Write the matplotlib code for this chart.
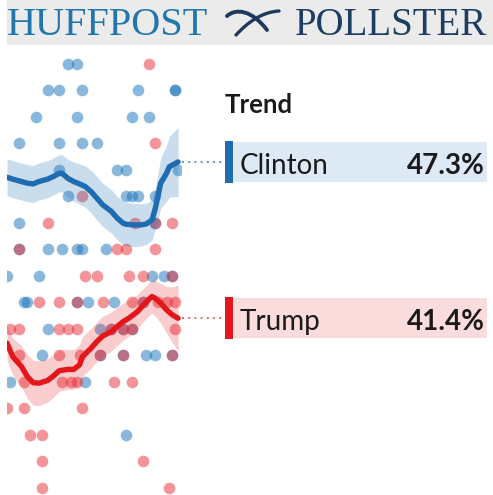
import matplotlib
matplotlib.use("Agg")
import matplotlib.pyplot as plt
from matplotlib.patches import Rectangle, PathPatch
from matplotlib.path import Path

# ---------------------------------------------------------------
# Individual poll results: day index in the window, share in percent
# ---------------------------------------------------------------
clinton_poll_days = [21, 24,
                     14, 18, 26, 45, 58, 58,
                     10, 24, 43, 49,
                     4, 18, 26, 31,
                     18, 38, 41, 59,
                     21, 41, 43, 45, 51,
                     4, 51,
                     4, 14, 19, 24, 26, 34,
                     0, 11, 50, 54, 57,
                     6, 7, 24, 28, 37, 47,
                     14, 32, 36, 40, 43,
                     12, 32, 40, 48, 51, 57,
                     1, 27,
                     41]
clinton_poll_vals = [51, 51,
                     50, 50, 50, 50, 50, 50,
                     49, 49, 49, 49,
                     48, 48, 48, 48,
                     47, 47, 47, 47,
                     46, 46, 46, 46, 46,
                     45, 45,
                     44, 44, 44, 44, 44, 44,
                     43, 43, 43, 43, 43,
                     42, 42, 42, 42, 42, 42,
                     41, 41, 41, 41, 41,
                     40, 40, 40, 40, 40, 40,
                     39, 39,
                     37]

trump_poll_days = [49,
                   51,
                   26,
                   14, 44, 51, 57,
                   4, 38, 41, 51,
                   27, 31, 42, 47, 57,
                   11, 18, 24, 33, 43, 47, 52, 55, 58,
                   1, 4, 18, 21, 24, 36, 40, 43, 58,
                   4, 18, 25, 32, 40, 57,
                   6, 19, 22, 24, 37, 43,
                   0, 6, 26,
                   8, 12,
                   12, 47,
                   12, 56]
trump_poll_vals = [51,
                   48,
                   46,
                   45, 45, 45, 45,
                   44, 44, 44, 44,
                   43, 43, 43, 43, 43,
                   42, 42, 42, 42, 42, 42, 42, 42, 42,
                   41, 41, 41, 41, 41, 41, 41, 41, 41,
                   40, 40, 40, 40, 40, 40,
                   39, 39, 39, 39, 39, 39,
                   38, 38, 38,
                   37, 37,
                   36, 36,
                   35, 35]

# ---------------------------------------------------------------
# Smoothed trend estimates with their uncertainty (half width, points)
# ---------------------------------------------------------------
clinton_trend_days = [0, 2, 5, 7, 9, 11, 14, 16, 18, 19, 21, 23, 25, 27, 29, 31,
                      33, 36, 38, 40, 41, 44, 46, 48, 50, 51, 52, 53, 55, 56, 59]
clinton_trend_vals = [46.72, 46.65, 46.56, 46.50, 46.47, 46.56, 46.65, 46.75,
                      46.87, 46.87, 46.68, 46.56, 46.47, 46.37, 46.18, 45.93,
                      45.68, 45.43, 45.18, 44.99, 44.95, 44.92, 44.92, 44.96,
                      45.11, 45.49, 45.99, 46.50, 46.87, 47.12, 47.3]
clinton_trend_err = [0.70, 0.70, 0.70, 0.70, 0.70, 0.70, 0.70, 0.70, 0.70,
                     0.70, 0.72, 0.74, 0.76, 0.78, 0.80, 0.82, 0.82, 0.82,
                     0.82, 0.82, 0.82, 0.82, 0.80, 0.78, 0.76, 0.78, 0.85,
                     0.95, 1.05, 1.15, 1.30]

trump_trend_days = [0, 2, 5, 7, 9, 11, 14, 16, 18, 21, 23, 25, 26, 29, 31, 33,
                    36, 38, 40, 42, 45, 47, 49, 50, 51, 53, 55, 57, 59]
trump_trend_vals = [40.46, 39.95, 39.58, 39.20, 38.97, 38.95, 39.05, 39.22,
                    39.42, 39.47, 39.47, 39.64, 39.95, 40.27, 40.52, 40.73,
                    40.90, 41.09, 41.27, 41.40, 41.65, 41.90, 42.12, 42.22,
                    42.16, 41.97, 41.72, 41.53, 41.4]
trump_trend_err = [0.65, 0.70, 0.78, 0.82, 0.85, 0.85, 0.82, 0.80, 0.78, 0.76,
                   0.75, 0.75, 0.75, 0.75, 0.75, 0.75, 0.74, 0.72, 0.70, 0.68,
                   0.65, 0.62, 0.62, 0.63, 0.66, 0.75, 0.88, 1.05, 1.25]

candidates = ["Clinton", "Trump"]
line_colors = ["#1f6db0", "#e3171b"]
dot_colors = ["#1673ba", "#e72a33"]
band_colors = ["#2b7bba", "#e8383d"]
box_colors = ["#dde9f5", "#fbdcdc"]
dot_line_colors = ["#5b93c8", "#e06a6e"]

W, H, DPI = 493, 495, 100
fig = plt.figure(figsize=(W / DPI, H / DPI), dpi=DPI)
fig.patch.set_facecolor("white")


def fx(px):
    return px / W


def fy(py):
    return 1 - py / H


# vertical scale shared by the chart and the label panel
Y_TOP, Y_BOT = 51.60, 34.73
plot_top_px, plot_bot_px = 48, 495

ax = fig.add_axes([fx(7), fy(plot_bot_px), fx(181) - fx(7),
                   fy(plot_top_px) - fy(plot_bot_px)])
ax.set_xlim(0, 60)
ax.set_ylim(Y_BOT, Y_TOP)
ax.axis("off")

series = [
    (clinton_poll_days, clinton_poll_vals, clinton_trend_days,
     clinton_trend_vals, clinton_trend_err),
    (trump_poll_days, trump_poll_vals, trump_trend_days,
     trump_trend_vals, trump_trend_err),
]

for i, (pd_, pv, td, tv, te) in enumerate(series):
    ax.scatter(pd_, pv, s=70, color=dot_colors[i], alpha=0.5,
               linewidths=0, zorder=2)

for i, (pd_, pv, td, tv, te) in enumerate(series):
    lo = [v - e for v, e in zip(tv, te)]
    hi = [v + e for v, e in zip(tv, te)]
    ax.fill_between(td, lo, hi, color=band_colors[i], alpha=0.25,
                    linewidth=0, zorder=3)
    ax.plot(td, tv, color=line_colors[i], lw=3.9, solid_capstyle="round",
            solid_joinstyle="round", zorder=4)

# label panel on the right, same vertical scale as the chart
pan = fig.add_axes([fx(181), fy(plot_bot_px), 1 - fx(181),
                    fy(plot_top_px) - fy(plot_bot_px)])
pan.set_xlim(181, W)
pan.set_ylim(Y_BOT, Y_TOP)
pan.axis("off")

box_half = 0.76
for i, (pd_, pv, td, tv, te) in enumerate(series):
    last = tv[-1]
    pan.plot([182, 224], [last, last], color=dot_line_colors[i], lw=1.4,
             ls=(0, (1, 2.2)))
    pan.add_patch(Rectangle((225, last - box_half), 262, 2 * box_half,
                            facecolor=box_colors[i], edgecolor="none"))
    pan.add_patch(Rectangle((225, last - box_half - 0.03), 8,
                            2 * box_half + 0.06,
                            facecolor=line_colors[i], edgecolor="none"))
    pan.text(240, last - 0.45, candidates[i], fontsize=20, family="Lato",
             color="#1a1a1a", va="baseline", ha="left")
    pan.text(485, last - 0.45, f"{last:.1f}%", fontsize=20, family="Lato",
             fontweight="bold", color="#1a1a1a", va="baseline", ha="right")

fig.text(fx(225), fy(113), "Trend", fontsize=18.5, family="Lato",
         fontweight="bold", color="#1a1a1a", va="baseline", ha="left")

# masthead
top = fig.add_axes([0, 0, 1, 1], zorder=-1)
top.set_xlim(0, W)
top.set_ylim(H, 0)
top.axis("off")
top.add_patch(Rectangle((7, 0), W - 7, 45, facecolor="#ebebeb",
                        edgecolor="none"))
top.text(7, 35, "HUFFPOST", fontsize=29, family="Liberation Serif",
         color="#2176ae", va="baseline", ha="left")
top.text(487, 35, "POLLSTER", fontsize=28, family="Liberation Serif",
         color="#1e3d63", va="baseline", ha="right")

swoosh_a = Path([(227, 16), (236, 8), (252, 10), (267, 30)],
                [Path.MOVETO, Path.CURVE4, Path.CURVE4, Path.CURVE4])
swoosh_b = Path([(236, 35), (248, 22), (262, 12), (279, 11)],
                [Path.MOVETO, Path.CURVE4, Path.CURVE4, Path.CURVE4])
for p, lw in [(swoosh_a, 2.8), (swoosh_b, 2.4)]:
    top.add_patch(PathPatch(p, facecolor="none", edgecolor="#1d3a5c",
                            lw=lw, capstyle="round"))

fig.savefig("out.png", dpi=DPI, facecolor="white")
